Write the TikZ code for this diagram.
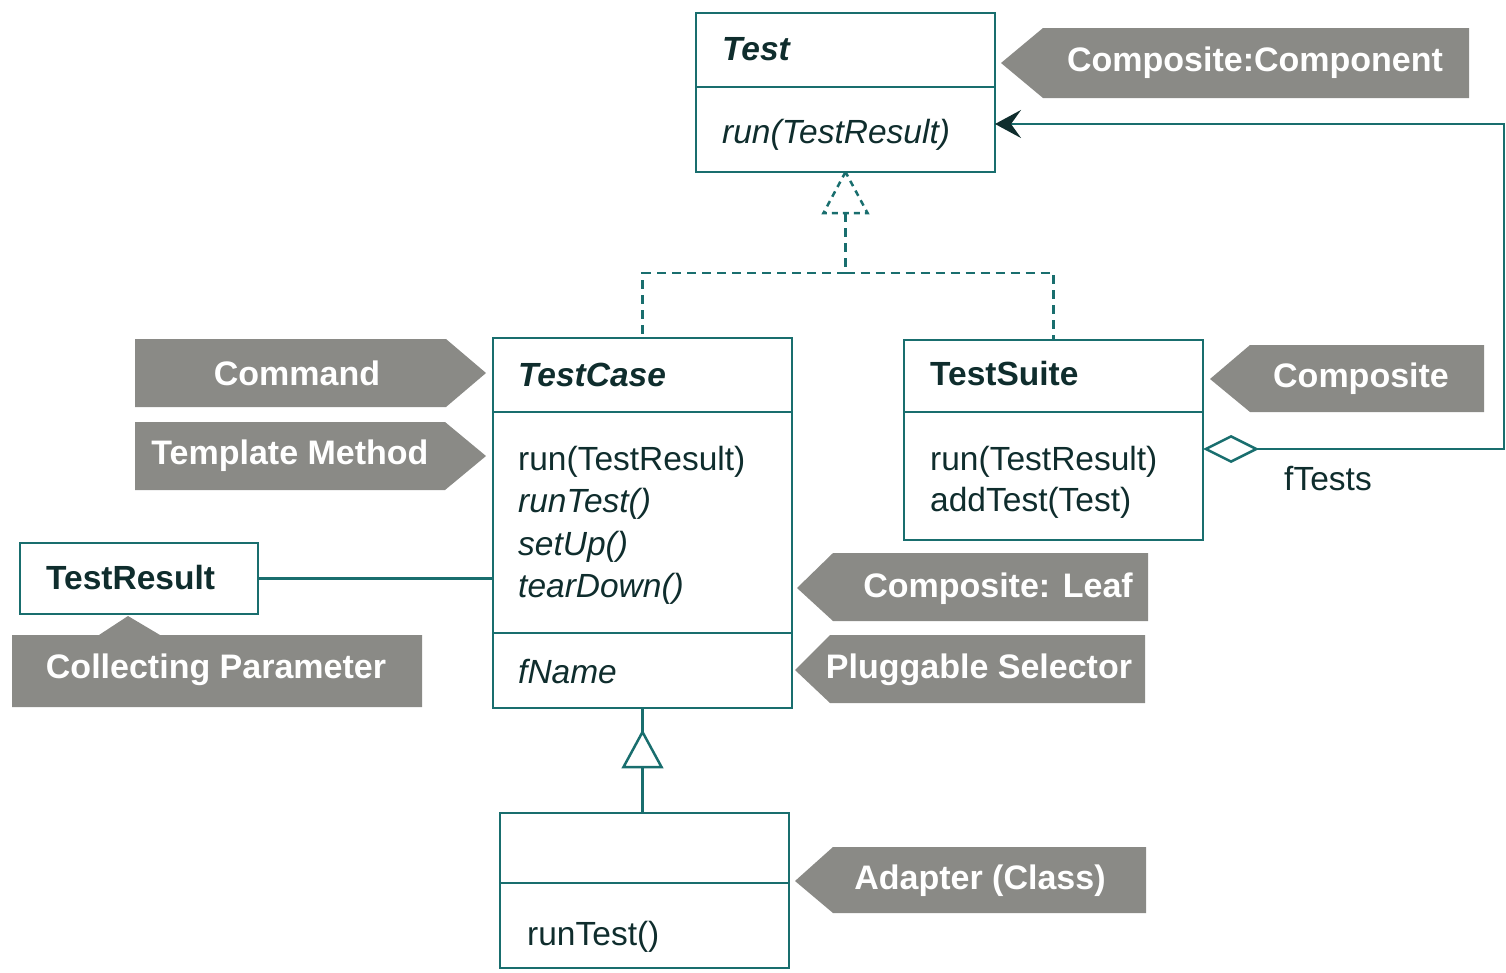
\documentclass[tikz,border=0pt]{standalone}
\usepackage{fontspec}
\setmainfont{Liberation Sans}
\usetikzlibrary{arrows.meta}
\definecolor{linec}{RGB}{25,110,110}
\definecolor{txtc}{RGB}{15,45,45}
\definecolor{bannerc}{RGB}{138,138,134}
\begin{document}
\begin{tikzpicture}[x=1pt,y=-1pt,
  cls/.style={draw=linec, line width=2.5pt, fill=white, anchor=north west, inner sep=0pt, outer sep=0pt},
  ln/.style={draw=linec, line width=2.5pt},
  dsh/.style={draw=linec, line width=2.5pt, dash pattern=on 9pt off 6pt},
  lbl/.style={anchor=west, text=txtc, font=\fontsize{33.5}{38}\selectfont, inner sep=0pt},
  bfill/.style={fill=bannerc},
  btxt/.style={text=white, font=\bfseries\fontsize{34}{40}\selectfont, inner sep=0pt},
]
\useasboundingbox (0,0) rectangle (1506,972);

% ---------- banners ----------
\fill[bfill] (1001,63) -- (1043,28) -- (1469,28) -- (1469,98) -- (1043,98) -- cycle;
\node[btxt] (bcc) at (1255,63) {Composite:Component};
\fill[bfill] (1210,379) -- (1250,345) -- (1484,345) -- (1484,412) -- (1250,412) -- cycle;
\node[btxt] (bcomp) at (1361,379) {Composite};
\fill[bfill] (797,588) -- (833,553) -- (1148,553) -- (1148,621) -- (833,621) -- cycle;
\node[btxt] (bleaf) at (998,589) {Composite: Leaf};
\fill[bfill] (795,670) -- (830,635) -- (1145,635) -- (1145,703) -- (830,703) -- cycle;
\node[btxt] (bplug) at (979,670) {Pluggable Selector};
\fill[bfill] (795,881) -- (833,847) -- (1146,847) -- (1146,913) -- (833,913) -- cycle;
\node[btxt] (badapt) at (980,881) {Adapter (Class)};
\fill[bfill] (135,339) -- (446,339) -- (486,373) -- (446,407) -- (135,407) -- cycle;
\node[btxt] (bcmd) at (297,373) {Command};
\fill[bfill] (135,422) -- (445,422) -- (486,456) -- (445,490) -- (135,490) -- cycle;
\node[btxt] (btm) at (290,456) {Template Method};
\fill[bfill] (12,635) -- (99,635) -- (128,616) -- (160,635) -- (422,635) -- (422,707) -- (12,707) -- cycle;
\node[btxt] (bcp) at (216,670) {Collecting Parameter};

% ---------- classes ----------
\node[cls, minimum width=299pt, minimum height=159pt] (test) at (696,13) {};
\draw[ln] (696,87) -- (995,87);
\node[lbl, font=\bfseries\itshape\fontsize{33.5}{38}\selectfont] (testn) at (722,49) {Test};
\node[lbl, font=\itshape\fontsize{33.5}{38}\selectfont] (testm) at (722,135) {run(TestResult)};

\node[cls, minimum width=299pt, minimum height=370pt] (testcase) at (493,338) {};
\draw[ln] (493,412) -- (792,412);
\draw[ln] (493,633) -- (792,633);
\node[lbl, font=\bfseries\itshape\fontsize{33.5}{38}\selectfont] (tcn) at (518,375) {TestCase};
\node[lbl] (tcm1) at (518,462) {run(TestResult)};
\node[lbl, font=\itshape\fontsize{33.5}{38}\selectfont] (tcm2) at (518,504) {runTest()};
\node[lbl, font=\itshape\fontsize{33.5}{38}\selectfont] (tcm3) at (518,547) {setUp()};
\node[lbl, font=\itshape\fontsize{33.5}{38}\selectfont] (tcm4) at (518,589) {tearDown()};
\node[lbl, font=\itshape\fontsize{33.5}{38}\selectfont] (tcf) at (518,672) {fName};

\node[cls, minimum width=299pt, minimum height=200pt] (testsuite) at (904,340) {};
\draw[ln] (904,412) -- (1203,412);
\node[lbl, font=\bfseries\fontsize{33.5}{38}\selectfont] (tsn) at (930,374) {TestSuite};
\node[lbl] (tsm1) at (930,462) {run(TestResult)};
\node[lbl] (tsm2) at (930,503) {addTest(Test)};

\node[cls, minimum width=238pt, minimum height=71pt] (testresult) at (20,543) {};
\node[lbl, font=\bfseries\fontsize{33.5}{38}\selectfont] (trn) at (46,578) {TestResult};

\node[cls, minimum width=289pt, minimum height=155pt] (sub) at (500,813) {};
\draw[ln] (500,883) -- (789,883);
\node[lbl] (subm) at (527,937) {runTest()};

\node[lbl] (ftests) at (1284,479) {fTests};

% ---------- connectors ----------
% realization (dashed)
\path (test.south) ++(0,41) coordinate (rtb) ++(0,60) coordinate (rj);
\draw[dsh, dash pattern=on 6pt off 5pt, line join=miter] (test.south) -- ++(-22,41) -- ++(44,0) -- cycle;
\draw[dsh] (rtb) -- (rj);
\draw[dsh] (rj) -| (testcase.north);
\draw[dsh] (rj) -| (testsuite.north);

% association
\draw[ln] (testresult.east) -- (testcase.west |- testresult.east);

% inheritance
\path (testcase.south) ++(0,24) coordinate (itip) ++(0,35) coordinate (ibase);
\draw[ln] (testcase.south) -- (itip);
\draw[ln, line join=miter] (itip) -- ++(-19,35) -- ++(38,0) -- cycle;
\draw[ln] (ibase) -- (sub.north -| ibase);

% aggregation
\coordinate (ds) at (1203,449);
\coordinate (cb) at (1504,449);
\coordinate (ct) at (1504,124);
\draw[ln, line join=miter,
  {Diamond[open, length=56pt, width=28pt, line width=2.5pt]}-{Stealth[length=26pt, width=28pt, inset=10pt, color=txtc]}]
  (ds) -- (cb) -- (ct) -- (test.east |- ct);
\end{tikzpicture}
\end{document}
